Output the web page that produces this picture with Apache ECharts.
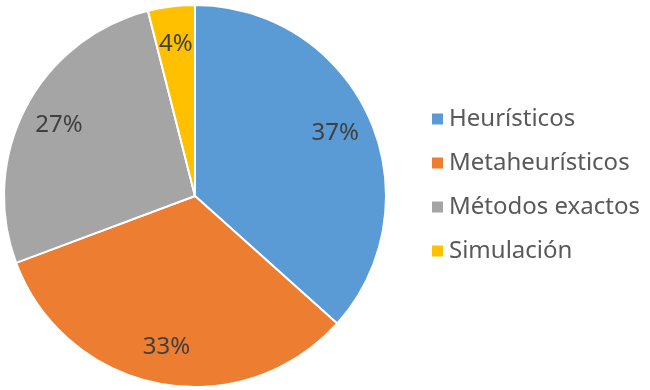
<!DOCTYPE html>
<html>
<head>
<meta charset="utf-8">
<script src="https://cdn.jsdelivr.net/npm/echarts@6/dist/echarts.min.js"></script>
<style>
  html, body { margin: 0; padding: 0; background: #fff; }
  #main { width: 650px; height: 390px; }
</style>
</head>
<body>
<div id="main"></div>
<script>
const categories = ['Heurísticos', 'Metaheurísticos', 'Métodos exactos', 'Simulación'];
const shares = [37, 33, 27, 4];
const colors = ['#5B9BD5', '#ED7D31', '#A5A5A5', '#FFC000'];

const chart = echarts.init(document.getElementById('main'));

const pieData = categories.map((name, i) => ({
  name: name,
  value: shares[i],
  itemStyle: { color: colors[i] }
}));

const option = {
  animation: false,
  legend: {
    orient: 'vertical',
    left: 425,
    top: 102,
    icon: 'rect',
    itemWidth: 13,
    itemHeight: 13,
    itemGap: 20,
    data: categories,
    textStyle: {
      fontFamily: 'Noto Sans',
      fontSize: 24,
      color: '#595959'
    }
  },
  series: [
    {
      type: 'pie',
      center: [195, 196],
      radius: [0, 191],
      startAngle: 90,
      clockwise: true,
      silent: true,
      label: { show: false },
      labelLine: { show: false },
      itemStyle: { borderColor: '#fff', borderWidth: 2 },
      data: pieData
    },
    {
      // transparent ring only used to place the percentage labels
      type: 'pie',
      center: [195, 196],
      radius: [110, 191],
      startAngle: 90,
      clockwise: true,
      silent: true,
      labelLine: { show: false },
      label: {
        show: true,
        position: 'inside',
        formatter: '{c}%',
        fontFamily: 'Noto Sans',
        fontSize: 24,
        color: '#404040'
      },
      itemStyle: { color: 'rgba(0,0,0,0)' },
      data: categories.map((name, i) => ({ name: name, value: shares[i] }))
    }
  ]
};

chart.setOption(option);
</script>
</body>
</html>
